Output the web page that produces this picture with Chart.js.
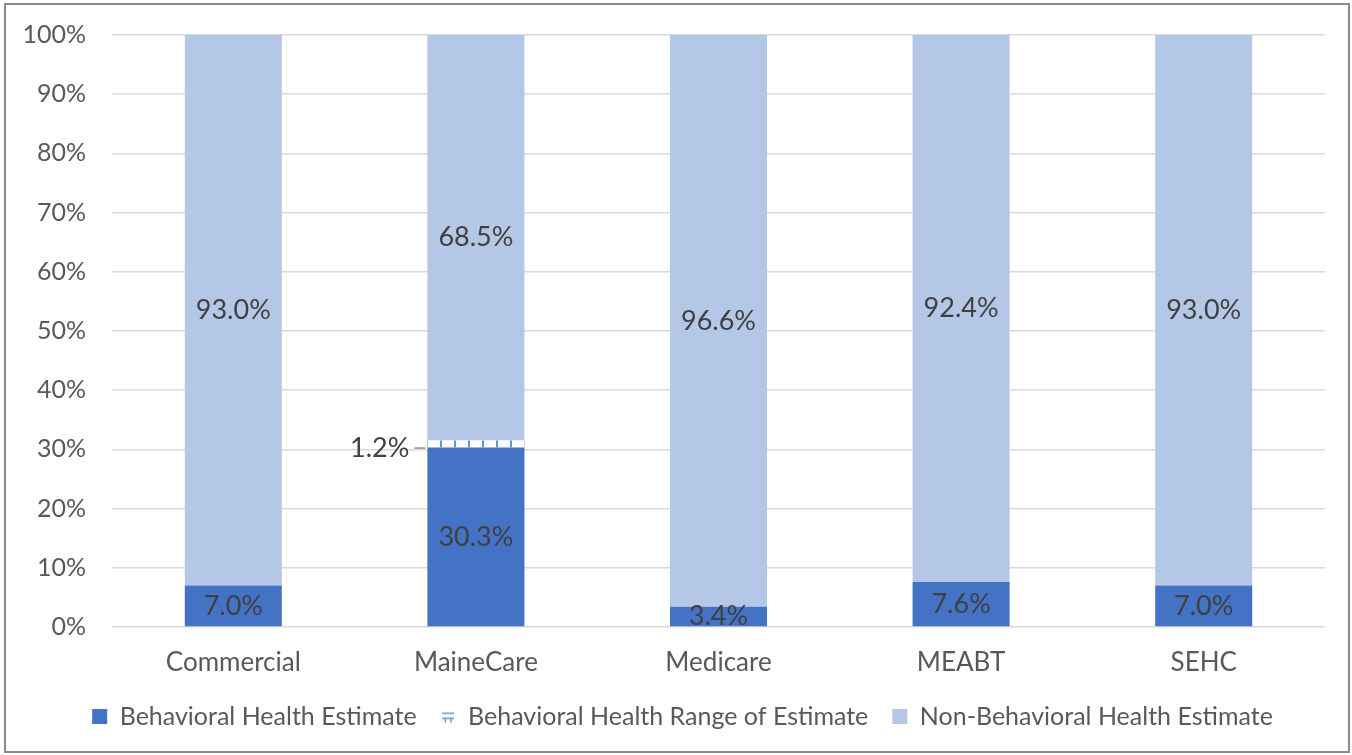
<!DOCTYPE html>
<html><head><meta charset="utf-8">
<script src="https://cdn.jsdelivr.net/npm/chart.js@4.4.1/dist/chart.umd.min.js"></script>
<style>
html,body{margin:0;padding:0;background:#fff;}
#wrap{position:absolute;left:4px;top:3px;width:1342px;height:746px;border:2px solid #8a8a8a;background:#fff;}
canvas{display:block;}
</style></head><body>
<div id="wrap"><canvas id="c" width="1342" height="746"></canvas></div>
<script>
const categories = ["Commercial","MaineCare","Medicare","MEABT","SEHC"];
const bhEstimate = [7.0, 30.3, 3.4, 7.6, 7.0];
const bhRange = [0, 1.2, 0, 0, 0];
const nonBhEstimate = [93.0, 68.5, 96.6, 92.4, 93.0];
const seriesNames = ["Behavioral Health Estimate","Behavioral Health Range of Estimate","Non-Behavioral Health Estimate"];
const yTicks = [0,10,20,30,40,50,60,70,80,90,100];

const FONT = "Lato, 'Open Sans', sans-serif";
const DARK = "#4472C4", LIGHT = "#B4C7E7", DASH = "#5B9BD5";

const pc = document.createElement('canvas'); pc.width = 14; pc.height = 10;
const px = pc.getContext('2d');
px.fillStyle = '#fff'; px.fillRect(0,0,14,10);
px.fillStyle = DASH; px.fillRect(0,0,2,10);
const rangePattern = document.createElement('canvas').getContext('2d').createPattern(pc,'repeat');

const ic = document.createElement('canvas'); ic.width = 14; ic.height = 14;
const ix = ic.getContext('2d');
ix.fillStyle = DASH;
ix.fillRect(1,3,12,1.5);
ix.fillRect(1,8,12,1.5);
ix.fillRect(3.5,8,1.5,5);
ix.fillRect(9,8,1.5,5);

const labelPlugin = {
  id:'segLabels',
  afterLayout(chart){
    if (chart.legend) { chart.legend.left += 17; chart.legend.right += 17; }
  },
  afterDatasetsDraw(chart){
    const ctx = chart.ctx;
    ctx.save();
    ctx.font = "27px " + FONT;
    ctx.fillStyle = "#404040";
    ctx.textBaseline = 'middle';
    chart.data.datasets.forEach((ds, di) => {
      const meta = chart.getDatasetMeta(di);
      meta.data.forEach((bar, i) => {
        const v = ds.data[i];
        if (!v) return;
        const txt = v.toFixed(1) + "%";
        if (di === 1) {
          const left = bar.x - bar.width/2;
          const y = (bar.y + bar.base)/2 + 4;
          ctx.strokeStyle = "#8c8c8c"; ctx.lineWidth = 1.5;
          ctx.beginPath(); ctx.moveTo(left - 13, y); ctx.lineTo(left - 2, y); ctx.stroke();
          ctx.textAlign = 'right';
          ctx.fillText(txt, left - 18, y);
        } else {
          ctx.textAlign = 'center';
          ctx.fillText(txt, bar.x, (bar.y + bar.base)/2);
        }
      });
    });
    ctx.restore();
  }
};

new Chart(document.getElementById('c'), {
  type:'bar',
  data:{
    labels: categories,
    datasets:[
      {label: seriesNames[0], data: bhEstimate, backgroundColor: DARK, borderWidth:0},
      {label: seriesNames[1], data: bhRange, backgroundColor: rangePattern, borderWidth:0},
      {label: seriesNames[2], data: nonBhEstimate, backgroundColor: LIGHT, borderWidth:0}
    ]
  },
  options:{
    responsive:false, animation:false,
    layout:{padding:{top:30,right:23,bottom:12,left:0}},
    datasets:{bar:{categoryPercentage:1, barPercentage:0.4}},
    scales:{
      x:{stacked:true,
        grid:{display:false, drawTicks:false},
        border:{display:false},
        ticks:{color:"#595959", font:{family:FONT,size:26}, padding:20},
        afterFit(s){ s.height = 53; }
      },
      y:{stacked:true, min:0, max:100,
        afterBuildTicks(s){ s.ticks = yTicks.map(v=>({value:v})); },
        grid:{color:"#d9d9d9", lineWidth:1.5, drawTicks:true, tickLength:26, tickColor:'rgba(0,0,0,0)'},
        border:{display:false},
        ticks:{color:"#595959", font:{family:FONT,size:25}, padding:0, callback:v=>v+"%"},
        afterFit(s){ s.width = 106; }
      }
    },
    plugins:{
      tooltip:{enabled:false},
      legend:{position:'bottom',
        labels:{color:"#595959", font:{family:FONT,size:25}, usePointStyle:true, boxHeight:15, pointStyleWidth:15, padding:24,
          generateLabels(chart){
            return chart.data.datasets.map((ds,i)=>({
              text: ds.label,
              fillStyle: i===0?DARK:(i===2?LIGHT:'#fff'),
              strokeStyle: 'rgba(0,0,0,0)', lineWidth:0,
              pointStyle: i===1 ? ic : 'rect',
              fontColor:"#595959",
              datasetIndex:i, hidden:false
            }));
          }
        }
      }
    }
  },
  plugins:[labelPlugin]
});
</script>
</body></html>
